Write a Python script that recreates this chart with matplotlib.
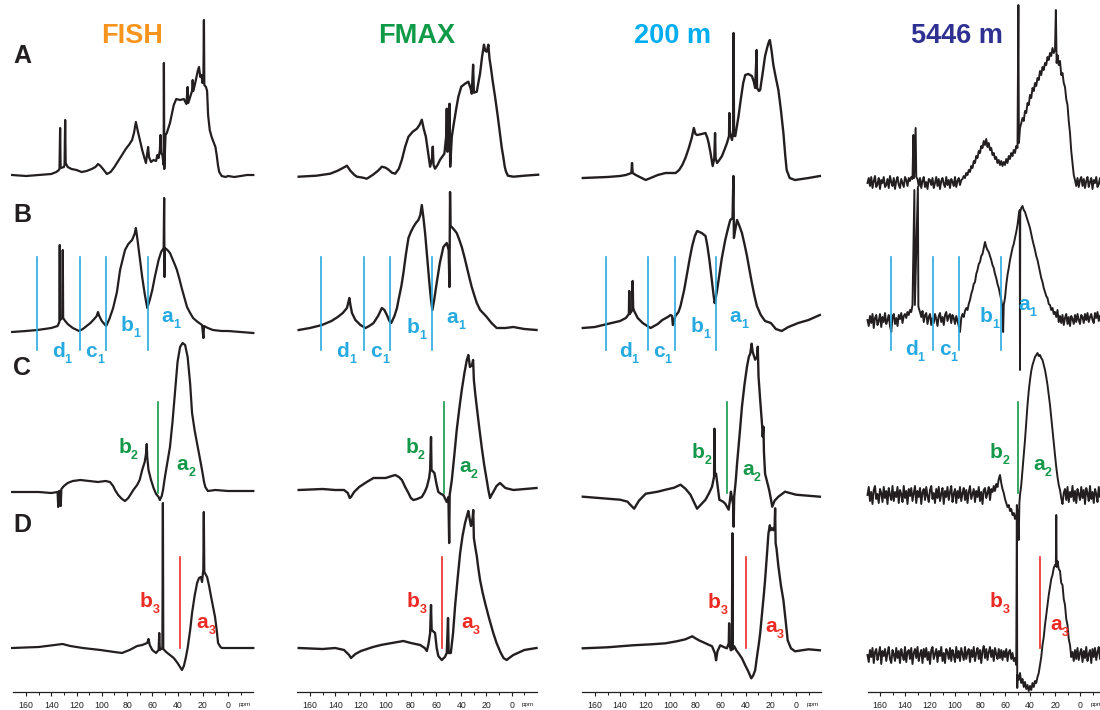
import matplotlib
matplotlib.use('Agg')
import matplotlib.pyplot as plt
import numpy as np

plt.rcParams['font.family'] = ['Liberation Sans', 'DejaVu Sans']

# ---------------- data (ppm, intensity) ----------------
columns = ['FISH', 'FMAX', '200 m', '5446 m']
title_colors = ['#F7941D', '#0F9A48', '#00AEEF', '#2E3192']
row_letters = ['A', 'B', 'C', 'D']
tick_values = [160, 140, 120, 100, 80, 60, 40, 20, 0]
minor_values = [150, 130, 110, 90, 70, 50, 30, 10, -10]

fish_A = [(171, 0), (160, -1), (150, 0), (140, 1), (136, 3), (134, 5), (133.5, 6), (133, 47), (132.6, 7), (130, 8),
          (129.5, 10), (129, 55), (128.6, 12), (127, 8), (124, 6), (120, 5), (116, 3), (112, 4), (108, 6), (105, 8),
          (103, 11), (101, 9), (99, 6), (96, 1), (93, 3), (90, 8), (87, 14), (84, 20), (81, 26), (78, 31), (76, 35),
          (74.5, 42), (73, 53), (71.5, 44), (70, 36), (68, 25), (66, 16), (65, 12), (64, 22), (63.3, 28), (62.6, 18),
          (61, 13), (59, 15), (57, 14), (56, 20), (55, 17), (54, 25), (53.5, 40), (53, 22), (52, 20), (51, 10),
          (50.8, 112), (50.5, 6), (49.5, 40), (48.5, 42), (46, 52), (43, 70), (41, 76), (38, 75), (35, 76), (33, 71),
          (32, 88), (31.5, 72), (29.5, 80), (28.5, 84), (28, 95), (27.5, 84), (26, 92), (25, 98), (24, 104), (23, 108),
          (22, 98), (21, 100), (20.3, 92), (19.5, 98), (19.1, 155), (18.8, 90), (17.5, 88), (16.6, 84), (15.8, 60),
          (14.5, 45), (13, 38), (11.5, 33), (10, 28), (9, 20), (8, 10), (7, 3), (5, -1), (2, -2), (0, -1), (-5, -2),
          (-10, -1), (-15, 0), (-20, 0)]
fish_B = [(171, 0), (160, 1), (151, 2), (140, 4), (135, 6), (133.6, 10), (133.3, 87), (133, 12), (131.2, 14), (130.9, 82),
          (130.6, 14), (129, 11), (127, 8), (123, 4), (118, 1), (115, 3), (112, 6), (109, 9), (106, 13), (104, 16),
          (103, 20), (102, 16), (100, 11), (98, 8), (96.5, 6), (94, 13), (91, 24), (88, 40), (85.5, 62), (83, 75),
          (81.6, 82), (79, 88), (76, 92), (74, 98), (73, 104), (72, 95), (70, 75), (68, 55), (66, 38), (64, 24), (62, 32),
          (60, 42), (58, 55), (55, 72), (53, 80), (51, 84), (50.6, 134), (50.3, 55), (50, 84), (48, 82), (46, 79), (44, 73),
          (42, 67), (40.5, 62), (38.5, 53), (36.7, 44), (34.5, 34), (32.5, 25), (30, 19), (27.7, 14), (24, 10), (20.6, 7),
          (19.5, -6), (19, 6), (16, 4), (12, 2), (5, 1), (0, 1), (-20, -1)]
fish_C = [(171, 0), (150, 0), (140, -1), (135, 0), (134.5, -15), (134, 1), (133, 1), (132.5, -14), (132, 3), (130, 6),
          (127, 9), (123, 11), (117, 12), (110, 11), (103, 10), (97, 11), (93.5, 10), (91, 6), (89.5, 2), (87, -3),
          (84, -7), (81.6, -9), (79, -6), (77, -2), (75, 2), (72, 7), (70, 12), (68, 22), (66, 30), (65, 38), (64.4, 48),
          (64, 35), (63, 22), (61, 12), (59, 4), (57, -2), (55, -5), (54, -8), (52.5, -4), (51.5, 2), (50, 15), (48, 30),
          (46, 45), (44, 70), (42, 100), (40, 130), (38, 145), (36, 149), (34, 147), (32, 135), (30, 108), (28.5, 79),
          (26.5, 62), (24.6, 49), (22.5, 35), (20.6, 22), (19, 10), (18, 5), (16, 1), (10, 2), (0, 1), (-20, 1)]
fish_D = [(171, 0), (150, 1), (131, 4), (125, 2), (115, 0), (101, -2), (90, -4), (84, -5), (78, -2), (72, 2), (68, 3),
          (64, 5), (63, 9), (62, 3), (60, -2), (57, -5), (55, -2), (54.5, 15), (54, -2), (52, 0), (51.6, 145), (51.3, -1),
          (49, -4), (46, -7), (43, -10), (40, -15), (38, -19), (36.5, -22), (35, -18), (33.5, -10), (32, 0), (30, 18),
          (28.5, 35), (26.5, 52), (24.5, 65), (23, 70), (21.5, 71), (20.6, 66), (19.6, 78), (19.2, 136), (18.8, 76),
          (17.5, 73), (16.6, 71), (15, 62), (14, 55), (12, 42), (10.3, 31), (9, 18), (7.9, 5), (6, 1), (4.8, 0), (0, 0),
          (-20, 0)]

fmax_A = [(169, 0), (155, 1), (144, 3), (138, 6), (135, 8), (132, 10), (130.7, 11), (128, 6), (125, 2), (122.8, 0),
          (118, -1), (114.9, -2), (110, 2), (106, 6), (103, 10), (100, 9), (97.7, 7), (95, 4), (92.4, 3), (89.5, 8),
          (87.1, 17), (84.5, 30), (81.9, 40), (78.5, 45), (75.2, 48), (73, 52), (71.3, 57), (69.8, 48), (68.1, 40),
          (66.3, 24), (64.7, 10), (63.2, 18), (62.6, 30), (62, 12), (60.8, 8), (58.7, 12), (56.8, 17), (53.4, 23),
          (52, 40), (51.5, 68), (51, 25), (50.2, 30), (49.3, 73), (48.8, 10), (47.5, 40), (46.3, 50), (44, 68), (42.3, 80),
          (40, 90), (37, 93), (34.4, 95), (32.5, 88), (31.7, 83), (30.6, 112), (30, 84), (27.7, 85), (26, 97), (25.1, 103),
          (23.5, 120), (22, 132), (21, 126), (19.8, 125), (18.5, 132), (17.6, 118), (16.6, 110), (15, 95), (13.2, 80),
          (11, 60), (9.3, 43), (8, 30), (6.7, 20), (5.5, 10), (4.5, 5), (3, 1), (-1.3, 0), (-10, 1), (-21, 2)]
fmax_B = [(169, 0), (160, 2), (150.5, 5), (143, 9), (138, 13), (134, 17), (130.7, 22), (129.5, 28), (128.8, 32),
          (127.8, 24), (126.7, 17), (124, 10), (120, 5), (116, 2), (113, 4), (109.6, 7), (106, 14), (103, 22), (101, 20),
          (99, 15), (97, 9), (95.6, 7), (93, 14), (91, 22), (89.8, 30), (87.5, 44), (85.9, 57), (84, 75), (81.9, 92),
          (80, 98), (78, 103), (76, 107), (74, 110), (72.5, 115), (71.3, 125), (70, 112), (68.7, 97), (67, 72),
          (65.3, 47), (64, 30), (62.9, 20), (61.5, 30), (59.5, 47), (57, 67), (54.2, 83), (51.5, 87), (50, 80),
          (49.4, 43), (48.9, 138), (48.5, 103), (47.5, 103), (45.5, 100), (43.6, 97), (41.5, 90), (39.6, 83), (37.5, 73),
          (35.6, 63), (33.5, 52), (31.7, 43), (29.5, 34), (27.7, 27), (25, 20), (22, 16), (19.8, 13), (16, 7),
          (11.9, 2), (5, 2), (-1.3, 3), (-10, 1), (-19.7, 0)]
fmax_C = [(169, 0), (150, 1), (140, 0), (133, 0), (130, -3), (128.5, -8), (127.5, -7), (125, -2), (121, 3), (115, 8),
          (109.6, 12), (100, 12), (95, 14), (92.4, 15), (89.5, 13), (87.1, 10), (84.5, 3), (81.9, -3), (80, -8),
          (78, -10), (75, -9), (71.3, -7), (69, -2), (67.3, 3), (65.5, 12), (64.7, 20), (64, 53), (63.6, 20), (61.3, 17),
          (59.5, 5), (58.2, -2), (56, -4), (54.2, -5), (51.5, -12), (50.2, -7), (49.6, -53), (49.2, -5), (47.5, 10),
          (45.5, 35), (43.6, 60), (41.5, 82), (39.6, 100), (37.5, 117), (35.6, 130), (34.4, 135), (33.1, 123),
          (31.5, 125), (30.6, 130), (30, 110), (28.8, 95), (27.7, 83), (25.8, 63), (23.8, 43), (21.8, 25), (19.8, 10),
          (18.5, 0), (17.2, -8), (16, -5), (14.6, -2), (12, 4), (9.3, 7), (5, 2), (-1.3, 0), (-19.7, 2)]
fmax_D = [(169, 0), (150, -1), (140, 0), (133, -2), (129, -7), (127.5, -10), (124, -6), (119.6, -3), (110, 1),
          (103.8, 3), (95, 5), (85.9, 7), (80, 5), (72.6, 3), (69, 0), (67.3, -3), (66, 4), (64.7, 15), (64, 43),
          (63.5, 18), (60.8, 15), (59.5, 0), (58.2, -8), (55.5, -12), (53, -9), (51.5, -5), (50.5, 30), (50, -5),
          (48.3, -5), (46.5, 15), (44.9, 42), (43, 68), (40.9, 95), (39, 112), (37, 125), (35.5, 132), (34.4, 137),
          (33.2, 128), (32.3, 122), (31, 130), (30.5, 138), (30, 110), (28.8, 100), (27.7, 92), (26.5, 80), (25.1, 68),
          (23, 55), (21.1, 45), (18, 30), (14.6, 15), (12, 5), (9, -4), (6.5, -10), (4, -12), (2, -10), (-1.3, -7),
          (-10, -2), (-19.7, 0)]

m200_A = [(169.7, 0), (150, 1), (140, 2), (135.4, 3), (131, 5), (130.5, 15), (130, 5), (127.5, 3), (119.6, -2), (110, 3),
          (103.8, 5), (95.8, 5), (93, 8), (90.5, 13), (88, 20), (85.3, 30), (83, 40), (81.3, 50), (80, 44), (78.7, 43),
          (75, 44), (72, 45), (70.5, 40), (69.5, 35), (68, 25), (66.3, 12), (65, 20), (64.4, 45), (64, 20), (62.8, 15),
          (61, 18), (58.9, 22), (57, 28), (54.9, 35), (53.3, 42), (53, 65), (52.6, 45), (50.9, 38), (50, 48),
          (49.7, 145), (49.3, 42), (48.3, 42), (47, 52), (45.7, 62), (44, 78), (42, 95), (40.4, 103), (38, 104),
          (35.1, 102), (33.5, 96), (32.5, 90), (31.3, 128), (31, 90), (29.5, 87), (28.5, 88), (26.5, 105), (24.6, 122),
          (23, 130), (21.9, 135), (20.8, 138), (19.5, 128), (18, 113), (16, 100), (14, 88), (12, 68), (10, 45),
          (8.5, 22), (7.4, 8), (5, 0), (0.8, -2), (-10, 0), (-19, 2)]
m200_B = [(169.7, 0), (160, 1), (153.5, 3), (140, 7), (135.4, 10), (133, 14), (132.7, 37), (132.3, 14), (130.3, 18),
          (130, 47), (129.6, 20), (128.8, 17), (126, 10), (122, 5), (119.6, 3), (115.7, 0), (110, 4), (106.4, 8),
          (102, 11), (99.8, 13), (98.6, 12), (98, 3), (96, 12), (93.5, 16), (91.9, 22), (89, 38), (86.6, 55), (84.5, 70),
          (82.6, 82), (80.5, 92), (78.7, 97), (75, 95), (72, 92), (70.5, 82), (68.9, 68), (67, 48), (65.5, 32),
          (64.7, 25), (63, 36), (61.6, 48), (59, 70), (56.3, 88), (54, 100), (52.3, 108), (50.5, 110), (49.8, 152),
          (49.4, 90), (48.8, 95), (46.9, 108), (45, 102), (43, 95), (41, 84), (39, 72), (37, 58), (35.1, 45), (33, 32),
          (31.1, 22), (28, 13), (24.6, 7), (20, 5), (16, -1), (11.4, -3), (6, 1), (-1.8, 5), (-10, 8), (-19, 13)]
m200_C = [(169.7, 0), (150, -2), (140, -3), (134, -5), (132.7, -7), (128.8, -12), (125, -4), (119.6, 3), (110, 5),
          (103.8, 7), (97, 9), (91.9, 12), (88, 8), (84, 2), (81, -6), (78.7, -12), (75, -7), (72, -3), (69, 4),
          (66.8, 10), (65.2, 20), (64.9, 68), (64.5, 23), (63.6, 23), (61, -3), (58, -5), (56.3, -7), (53.6, -13),
          (52.5, -3), (51.8, 5), (50, -8), (49.6, -30), (49.2, 0), (48, 15), (46.9, 33), (45, 60), (43, 90), (41, 112),
          (39, 130), (37.5, 140), (36.4, 143), (35.3, 153), (34.5, 145), (32.5, 137), (31, 140), (30.4, 150),
          (29.8, 120), (28.5, 97), (27, 72), (26.5, 60), (25.9, 70), (25.5, 45), (24.6, 23), (23, 15), (21.4, 7),
          (20, -2), (18.9, -10), (17, -4), (14, 0), (8.7, 5), (0, 2), (-19, 0)]
m200_D = [(169.7, 0), (150, 1), (130, 3), (115, 4), (103.8, 5), (95, 7), (88, 9), (82.6, 12), (80, 10), (77.3, 8),
          (72, 5), (66.8, 2), (64.5, -5), (63.6, -12), (62.5, -3), (60.3, 3), (57, 1), (55, 0), (53.5, 5), (53.2, 25),
          (52.8, 3), (51.8, -2), (51, 0), (50.6, 115), (50.3, -1), (49.1, 2), (47.5, -2), (45.7, -5), (43, -10),
          (40.4, -17), (38, -23), (35.6, -30), (34, -27), (32.5, -22), (31, -8), (29.5, 5), (28.5, 15), (27, 35),
          (25.5, 55), (24.6, 68), (23.2, 92), (21.9, 115), (20.8, 123), (20.2, 118), (19, 120), (18, 118), (17, 122),
          (16.6, 140), (16.2, 105), (15.5, 100), (14, 82), (12, 63), (10, 48), (8, 25), (6.6, 8), (4, 0), (0.8, -3),
          (-10, -1), (-19, -2)]

d5446_A = [(170, 0), (169, 5), (168, -3), (167, 6), (166, -5), (165, 2), (164, 7), (163, -4), (162, -1), (161, 5),
           (160, -6), (159, 3), (158, 0), (157, 6), (156, -4), (155, -2), (154, 4), (153, -5), (152, 7), (151, 1),
           (150, -3), (149, 5), (148, -6), (147, 2), (146, 6), (145, -2), (144, -5), (143, 4), (142, 0), (141, -4),
           (140, 6), (139, 3), (138, -3), (137, 5), (136, 2), (135, 6), (134, 4), (133.3, 48), (132.8, 5), (131.5, 55),
           (131, 6), (130, 4), (129, -3), (128, 5), (127, -5), (126, 2), (125, 6), (124, -4), (123, 1), (122, -6),
           (121, 4), (120, 3), (119, -2), (118, 5), (117, -5), (116, 0), (115, 6), (114, -3), (113, 4), (112, -6),
           (111, 2), (110, 5), (109, -1), (108, -4), (107, 6), (106, -2), (105, 3), (104, -5), (103, 4), (102, 1),
           (101, -3), (100, 6), (99, -4), (98, 2), (97, 5), (96, -2), (95, 3), (94, 4), (93, 7), (92, 5), (91, 10),
           (90, 8), (89, 13), (88, 11), (87, 17), (86, 15), (85, 22), (84, 20), (83, 27), (82, 25), (81, 32), (80, 30),
           (79, 37), (78, 35), (77, 42), (76, 38), (75, 44), (74, 36), (73, 40), (72, 33), (71, 35), (70, 28), (69, 30),
           (68, 24), (67, 26), (66, 20), (65, 23), (64, 18), (63, 22), (62, 17), (61, 21), (60, 18), (59, 24), (58, 20),
           (57, 27), (56, 24), (55, 30), (54, 27), (53, 33), (52, 30), (51, 37), (50, 35), (49.3, 178), (48.9, 40),
           (48, 55), (47, 60), (46, 65), (45, 62), (44, 72), (43, 70), (42, 80), (41, 78), (40, 88), (39, 85), (38, 95),
           (37, 92), (36, 100), (35, 97), (34, 105), (33, 103), (32, 112), (31, 108), (30, 116), (29, 113), (28, 120),
           (27, 118), (26, 126), (25, 123), (24, 130), (23, 127), (22, 135), (21, 130), (20, 133), (19.3, 173),
           (18.7, 120), (18, 128), (17, 118), (16, 122), (15, 108), (14, 110), (13, 100), (12, 96), (11, 84), (10, 78),
           (9, 62), (8, 50), (7, 32), (6, 20), (5, 8), (4, 3), (3, -3), (2, 5), (1, -4), (0, 3), (-1, 6), (-2, -3),
           (-3, 4), (-4, -5), (-5, 2), (-6, 6), (-7, -4), (-8, 1), (-9, 5), (-10, -6), (-11, 3), (-12, 0), (-13, 6),
           (-14, -4), (-15, -1), (-16, 5), (-17, -5), (-18, 3), (-19, 6), (-20, -2)]
d5446_B = [(170, 0), (169, -6), (168, 4), (167, -3), (166, 6), (165, -8), (164, 2), (163, 5), (162, -5), (161, -1),
           (160, 6), (159, -7), (158, 3), (157, -2), (156, 7), (155, -4), (154, 0), (153, 5), (152, -6), (151, -12),
           (150, 3), (149, 6), (148, -4), (147, 2), (146, -6), (145, 5), (144, 1), (143, 7), (142, -3), (141, 4),
           (140, 6), (139, 2), (138, 8), (137, 5), (136, 10), (135, 8), (134, 15), (132.5, 130), (132.1, 15),
           (129.7, 133), (129.3, 14), (129, 12), (128, 8), (127, 3), (126, 9), (125, -2), (124, 5), (123, 7), (122, -4),
           (121, 3), (120, 6), (119, -5), (118, 2), (117, -3), (116, 6), (115, 1), (114, -6), (113, 4), (112, 7),
           (111, -2), (110, 3), (109, -5), (108, 5), (107, 8), (106, -1), (105, 4), (104, 6), (103, -3), (102, 5),
           (101, 2), (100, -4), (99, 4), (98, -1), (97, -6), (96, -12), (95, 2), (94, 6), (93, 3), (92, 9), (91, 12),
           (90, 10), (89, 16), (88, 20), (87, 26), (86, 30), (85, 36), (84, 38), (83, 46), (82, 50), (81, 56), (80, 58),
           (79, 64), (78, 66), (77, 72), (76, 78), (75, 73), (74, 70), (73, 68), (72, 64), (71, 60), (70, 55), (69, 52),
           (68, 46), (67, 42), (66, 36), (65, 32), (64, 26), (63, 20), (62, 12), (61.5, -12), (61, 15), (60, 22),
           (59, 35), (58, 45), (57, 52), (56, 60), (55, 66), (54, 72), (53, 76), (52, 82), (51, 88), (50, 95),
           (49, 105), (48.2, 110), (48, -50), (47.8, 108), (47, 112), (46, 114), (45, 110), (44, 108), (43, 104),
           (42, 100), (41, 96), (40, 92), (39, 86), (38, 80), (37, 75), (36, 70), (35, 64), (34, 60), (33, 54), (32, 48),
           (31, 42), (30, 38), (29, 32), (28, 28), (27, 24), (26, 22), (25, 16), (24, 15), (23, 10), (22, 12), (21, 6),
           (20, 8), (19, 3), (18, 10), (17, -2), (16, 4), (15, -3), (14, 5), (13, -5), (12, 2), (11, 6), (10, -4),
           (9, 3), (8, -6), (7, 4), (6, 1), (5, -4), (4, 5), (3, -2), (2, 6), (1, 0), (0, -4), (-1, 5), (-2, 3), (-3, -3),
           (-4, 6), (-5, 0), (-6, 7), (-7, -2), (-8, 3), (-9, 6), (-10, 0), (-11, -3), (-12, 7), (-13, 2), (-14, 8),
           (-15, -1), (-16, 4), (-17, 6), (-18, 1), (-19, 7), (-20, 2)]
d5446_C = [(170, 0), (169, 8), (168, -6), (167, 3), (166, -9), (165, 5), (164, 9), (163, -4), (162, 1), (161, -8),
           (160, 6), (159, 2), (158, -7), (157, 8), (156, -3), (155, 4), (154, -9), (153, 7), (152, 0), (151, -5),
           (150, 9), (149, -6), (148, 3), (147, -2), (146, 8), (145, -8), (144, 5), (143, 1), (142, -7), (141, 9),
           (140, -3), (139, 4), (138, -9), (137, 6), (136, -1), (135, 7), (134, -6), (133, 2), (132, 9), (131, -8),
           (130, 4), (129, -2), (128, 7), (127, -9), (126, 3), (125, 6), (124, -5), (123, 8), (122, -1), (121, -7),
           (120, 5), (119, 9), (118, -4), (117, 2), (116, -8), (115, 6), (114, -3), (113, 8), (112, -6), (111, 1),
           (110, 7), (109, -9), (108, 4), (107, -2), (106, 8), (105, -5), (104, 3), (103, 9), (102, -7), (101, 1),
           (100, 6), (99, -8), (98, 4), (97, -3), (96, 8), (95, -6), (94, 2), (93, 7), (92, -5), (91, 5), (90, -8),
           (89, 3), (88, 9), (87, -4), (86, 1), (85, 6), (84, -7), (83, 4), (82, -2), (81, 8), (80, -6), (79, 3),
           (78, -9), (77, 5), (76, 7), (75, -3), (74, 2), (73, 8), (72, -5), (71, 6), (70, 3), (69, 9), (68, 4),
           (67, 11), (66, 8), (65, 16), (64, 20), (63, 12), (62, 6), (61, 2), (60, -4), (59, -8), (58, -12), (57, -10),
           (56, -16), (55, -14), (54, -20), (53, -18), (52, -24), (51, -20), (50, -15), (49, -45), (48.5, -8), (48, 0),
           (47, 10), (46, 25), (45, 40), (44, 55), (43, 72), (42, 90), (41, 104), (40, 115), (39, 124), (38, 130),
           (37, 134), (36, 138), (35, 140), (34, 142), (33, 139), (32, 140), (31, 137), (30, 135), (29, 130), (28, 125),
           (27, 118), (26, 110), (25, 100), (24, 90), (23, 78), (22, 65), (21, 52), (20, 40), (19, 28), (18, 18),
           (17, 10), (16, 5), (15, -3), (14, -9), (13, 2), (12, 6), (11, -5), (10, 8), (9, -7), (8, 3), (7, -2), (6, 9),
           (5, -6), (4, 4), (3, -8), (2, 6), (1, 1), (0, -5), (-1, 8), (-2, -3), (-3, 5), (-4, -9), (-5, 7), (-6, 2),
           (-7, -6), (-8, 9), (-9, -4), (-10, 3), (-11, -8), (-12, 6), (-13, 1), (-14, -7), (-15, 8), (-16, -2),
           (-17, 5), (-18, -9), (-19, 6), (-20, 0)]
d5446_D = [(170, 0), (169, -7), (168, 5), (167, -2), (166, 7), (165, -8), (164, 3), (163, 6), (162, -5), (161, 1),
           (160, 8), (159, -9), (158, 4), (157, -1), (156, 6), (155, -6), (154, 2), (153, 8), (152, -4), (151, -8),
           (150, 5), (149, 1), (148, -6), (147, 7), (146, -3), (145, 4), (144, -8), (143, 6), (142, 0), (141, -5),
           (140, 8), (139, -7), (138, 3), (137, 5), (136, -4), (135, 7), (134, -9), (133, 2), (132, 6), (131, -3),
           (130, 8), (129, -6), (128, 1), (127, 5), (126, -8), (125, 6), (124, -2), (123, 7), (122, -5), (121, 3),
           (120, -9), (119, 5), (118, 8), (117, -4), (116, 1), (115, 6), (114, -7), (113, 4), (112, -1), (111, 8),
           (110, -6), (109, 2), (108, -8), (107, 6), (106, 3), (105, -4), (104, 7), (103, -6), (102, 5), (101, 0),
           (100, -7), (99, 8), (98, -3), (97, 4), (96, -6), (95, 7), (94, 1), (93, -5), (92, 8), (91, -4), (90, 3),
           (89, 6), (88, -7), (87, 5), (86, -2), (85, 8), (84, -6), (83, 2), (82, 7), (81, -4), (80, 5), (79, -8),
           (78, 4), (77, 9), (76, -3), (75, 6), (74, -5), (73, 3), (72, 8), (71, -2), (70, 5), (69, -6), (68, 7), (67, 1),
           (66, -4), (65, 6), (64, -3), (63, 5), (62, -5), (61, 4), (60, -2), (59, 6), (58, -6), (57, 3), (56, 5),
           (55, -4), (54, 2), (53, -6), (52, -3), (51, -10), (50.5, 150), (50.2, -33), (50, -20), (49, -25), (48, -18),
           (47, -28), (46, -24), (45, -32), (44, -27), (43, -34), (42, -30), (41, -36), (40, -31), (39, -35), (38, -28),
           (37, -32), (36, -26), (35, -28), (34, -22), (33, -18), (32, -10), (31, -2), (30, 10), (29, 18), (28, 30),
           (27, 40), (26, 50), (25, 60), (24, 68), (23, 76), (22, 80), (21, 87), (20, 90), (19.3, 90), (19, 140),
           (18.7, 88), (18, 94), (17, 86), (16, 84), (15, 72), (14, 70), (13, 56), (12, 50), (11, 36), (10, 30), (9, 16),
           (8, 10), (7, -2), (6, 3), (5, -6), (4, 5), (3, -4), (2, 7), (1, -5), (0, 2), (-1, 6), (-2, -7), (-3, 4),
           (-4, -3), (-5, 8), (-6, -6), (-7, 1), (-8, 5), (-9, -8), (-10, 6), (-11, -2), (-12, 7), (-13, -5), (-14, 3),
           (-15, 8), (-16, -4), (-17, 2), (-18, -7), (-19, 5), (-20, 0)]

column_spectra = [[fish_A, fish_B, fish_C, fish_D],
                  [fmax_A, fmax_B, fmax_C, fmax_D],
                  [m200_A, m200_B, m200_C, m200_D],
                  [d5446_A, d5446_B, d5446_C, d5446_D]]

# region markers (ppm)
blue_ppm = [151, 117.5, 96.5, 63.5]
green_ppm = [55.4, 54, 55, 50]
red_ppm = [38, 55.5, 40, 32]
# labels: (ppm of left edge, baseline pixel from top)
label_pos = [
    {'d1': (139.6, 357), 'c1': (113, 357), 'b1': (85.5, 331), 'a1': (52.5, 322),
     'b2': (87, 453), 'a2': (40.6, 470), 'b3': (69.7, 607), 'a3': (24.8, 628)},
    {'d1': (139, 357), 'c1': (112, 357), 'b1': (83.4, 333), 'a1': (51.5, 323),
     'b2': (84.5, 453), 'a2': (41.7, 472), 'b3': (83.2, 607), 'a3': (40.2, 628)},
    {'d1': (141, 357), 'c1': (114, 357), 'b1': (84, 332), 'a1': (53, 322),
     'b2': (83, 458), 'a2': (43, 475), 'b3': (70, 608), 'a3': (24.6, 632)},
    {'d1': (140, 355), 'c1': (112.8, 355), 'b1': (80, 322), 'a1': (49.6, 310),
     'b2': (72, 458), 'a2': (37.6, 470), 'b3': (72, 607), 'a3': (24, 630)},
]

# ---------------- layout ----------------
W, H = 1100, 710
AXY = 692  # pixel row of the ppm axis line
col_px = [(13.4, 253.3), (297.4, 536.9), (582.4, 821.1), (867.5, 1105.0)]
baselines = [[175, 332, 492, 648], [176.7, 330, 490, 648], [178, 328, 496.7, 648.3], [183, 320, 495, 655]]
line_widths = [1.6, 1.7, 1.7, 1.4]

BLUE = '#27AAE1'
GREEN = '#14984A'
RED = '#EE2A24'
INK = '#231F20'

fig = plt.figure(figsize=(W / 100, H / 100), dpi=100)


def ydat(px):
    return AXY - px


def sublabel(ax, ppm, px, letter, sub, color):
    y = ydat(px)
    ax.text(ppm, y, letter, ha='left', va='baseline', fontsize=15, fontweight='bold', color=color, clip_on=False)
    adv = {'a': 0.556, 'b': 0.611, 'c': 0.556, 'd': 0.611}[letter] * 15
    ax.annotate(sub, (ppm, y), xytext=(adv, -4.5), textcoords='offset points', ha='left', va='baseline',
                fontsize=9, fontweight='bold', color=color, annotation_clip=False)


for ci in range(4):
    x0, x1 = col_px[ci]
    ax = fig.add_axes([x0 / W, (H - AXY) / H, (x1 - x0) / W, AXY / H])
    ax.set_xlim(170, -20)
    ax.set_ylim(0, AXY)
    ax.patch.set_alpha(0)
    for s in ['top', 'left', 'right']:
        ax.spines[s].set_visible(False)
    ax.spines['bottom'].set_linewidth(0.9)
    ax.spines['bottom'].set_color(INK)
    ax.set_yticks([])
    ax.set_xticks(tick_values)
    ax.set_xticks(minor_values, minor=True)
    ax.set_xticklabels([str(t) for t in tick_values])
    ax.tick_params(axis='x', which='major', direction='out', length=3.2, width=0.8, colors=INK,
                   labelsize=6.3, pad=3.5)
    ax.tick_params(axis='x', which='minor', direction='out', length=1.8, width=0.7, colors=INK)
    ax.text(-13, ydat(706), 'ppm', fontsize=4.5, color=INK, ha='center', va='baseline', clip_on=False)

    for ri in range(4):
        arr = np.array(column_spectra[ci][ri], dtype=float)
        ax.plot(arr[:, 0], ydat(baselines[ci][ri]) + arr[:, 1], color=INK, lw=line_widths[ci],
                solid_joinstyle='round', clip_on=False)

    for p in blue_ppm:
        ax.plot([p, p], [ydat(257), ydat(350)], color=BLUE, lw=1.2)
    ax.plot([green_ppm[ci]] * 2, [ydat(402), ydat(493)], color=GREEN, lw=1.2)
    ax.plot([red_ppm[ci]] * 2, [ydat(557), ydat(648)], color=RED, lw=1.2)

    lp = label_pos[ci]
    for key in ['d1', 'c1', 'b1', 'a1']:
        sublabel(ax, lp[key][0], lp[key][1], key[0], key[1], BLUE)
    for key in ['b2', 'a2']:
        sublabel(ax, lp[key][0], lp[key][1], key[0], key[1], GREEN)
    for key in ['b3', 'a3']:
        sublabel(ax, lp[key][0], lp[key][1], key[0], key[1], RED)

title_x = [132.5, 416.7, 672, 957]
for ci in range(4):
    fig.text(title_x[ci] / W, (H - 43) / H, columns[ci], ha='center', va='baseline', fontsize=19.5,
             fontweight='bold', color=title_colors[ci])

row_base = [63, 222, 375, 532]
for ri in range(4):
    fig.text(13 / W, (H - row_base[ri]) / H, row_letters[ri], ha='left', va='baseline', fontsize=18,
             fontweight='bold', color=INK)

fig.savefig('out.png', dpi=100)
